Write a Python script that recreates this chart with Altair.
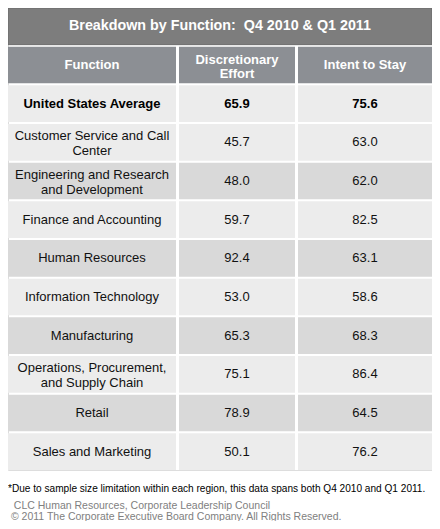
import altair as alt
import pandas as pd

# ---------------- data ----------------
title_text = "Breakdown by Function:  Q4 2010 & Q1 2011"
headers = ["Function", "Discretionary\nEffort", "Intent to Stay"]
functions = [
    "United States Average",
    "Customer Service and Call\nCenter",
    "Engineering and Research\nand Development",
    "Finance and Accounting",
    "Human Resources",
    "Information Technology",
    "Manufacturing",
    "Operations, Procurement,\nand Supply Chain",
    "Retail",
    "Sales and Marketing",
]
discretionary = [65.9, 45.7, 48.0, 59.7, 92.4, 53.0, 65.3, 75.1, 78.9, 50.1]
intent = [75.6, 63.0, 62.0, 82.5, 63.1, 58.6, 68.3, 86.4, 64.5, 76.2]
row_kinds = ["avg", "light", "dark", "light", "dark", "light", "dark", "light", "dark", "light"]
footnote = "*Due to sample size limitation within each region, this data spans both Q4 2010 and Q1 2011."
source_lines = [
    "CLC Human Resources, Corporate Leadership Council",
    "\u00a9 2011 The Corporate Executive Board Company. All Rights Reserved.",
]

# ---------------- layout / style ----------------
FONT = "Liberation Sans"
COL_WIDTHS = [168, 116, 134]
COL_GAP = 3
W = sum(COL_WIDTHS) + COL_GAP * (len(COL_WIDTHS) - 1)   # 424
VIEW_H = 462
FOOT_H = 51
BODY_LH = 15
HEAD_LH = 14

row_keys = ["title", "h"] + [f"r{i:02d}" for i in range(len(functions))]

# column edges (layout, derived from widths)
edges = []
pos = 0
for w in COL_WIDTHS:
    edges.append((pos, pos + w))
    pos += w + COL_GAP

col_values = [
    list(functions),
    [f"{v:.1f}" for v in discretionary],
    [f"{v:.1f}" for v in intent],
]

records = [{
    "row": "title", "kind": "title", "x0": 0, "x1": W, "xc": W / 2,
    "label": title_text.replace("  ", "\u00a0 "),
}]
for c, (x0, x1) in enumerate(edges):
    labels = [headers[c]] + col_values[c]
    kinds = ["header"] + row_kinds
    for key, lab, kind in zip(row_keys[1:], labels, kinds):
        records.append({"row": key, "kind": kind, "x0": x0, "x1": x1,
                        "xc": (x0 + x1) / 2, "label": lab})
df = pd.DataFrame(records)

x_scale = alt.Scale(domain=[0, W], nice=False, zero=False)
y_enc = alt.Y("row:N", axis=None, sort=row_keys,
              scale=alt.Scale(domain=row_keys, paddingInner=0.0517, paddingOuter=0))
fill_enc = alt.Color("kind:N", legend=None,
                     scale=alt.Scale(domain=["title", "header", "avg", "light", "dark"],
                                     range=["#7d7d7d", "#8c8f94", "#ececec", "#ececec", "#d9d9d9"]))

base = alt.Chart(df).encode(y=y_enc)

cells = base.mark_rect(strokeWidth=1).encode(
    x=alt.X("x0:Q", scale=x_scale, axis=None),
    x2="x1:Q",
    color=fill_enc,
    stroke=alt.condition("datum.kind == 'title'", alt.value("#6b6b6b"), alt.value("transparent")),
)

MULTI = "indexof(datum.label, '\\n') >= 0"
SINGLE = "indexof(datum.label, '\\n') < 0"
BODY = "(datum.kind == 'light' || datum.kind == 'dark')"
tx = alt.X("xc:Q", scale=x_scale, axis=None)

layers = [cells]
layers.append(
    base.mark_text(font=FONT, fontSize=14.3, fontWeight="bold", color="white")
    .encode(x=tx, text="label:N")
    .transform_filter("datum.kind == 'title'")
)
for cond, dy in ((SINGLE, 0), (MULTI, -5)):
    layers.append(
        base.mark_text(font=FONT, fontSize=13, fontWeight="bold", color="white",
                       lineBreak="\n", lineHeight=HEAD_LH, dy=dy)
        .encode(x=tx, text="label:N")
        .transform_filter(f"datum.kind == 'header' && {cond}")
    )
layers.append(
    base.mark_text(font=FONT, fontSize=13, fontWeight="bold", color="#000000")
    .encode(x=tx, text="label:N")
    .transform_filter("datum.kind == 'avg'")
)
for cond, dy in ((SINGLE, 0), (MULTI, -6)):
    layers.append(
        base.mark_text(font=FONT, fontSize=13, color="#111111",
                       lineBreak="\n", lineHeight=BODY_LH, dy=dy)
        .encode(x=tx, text="label:N")
        .transform_filter(f"{BODY} && {cond}")
    )

chart = alt.layer(*layers).properties(
    width=W, height=VIEW_H,
    autosize=alt.AutoSizeParams(type="none"),
    padding={"left": 0, "top": 0, "right": 0, "bottom": FOOT_H},
    title=alt.TitleParams(
        text=footnote,
        subtitle=["\u200b\u00a0\u00a0" + source_lines[0], "\u200b\u00a0" + source_lines[1]],
        orient="bottom", anchor="start", offset=13, frame="group", baseline="top",
        font=FONT, fontSize=10.1, fontWeight="normal", color="#000000",
        subtitleFont=FONT, subtitleFontSize=10.5, subtitleColor="#808080",
        subtitleLineHeight=11, subtitlePadding=7,
    ),
).configure_view(stroke="transparent").configure(font=FONT)

chart.save("out.html", embed_options={"renderer": "svg", "actions": False})
